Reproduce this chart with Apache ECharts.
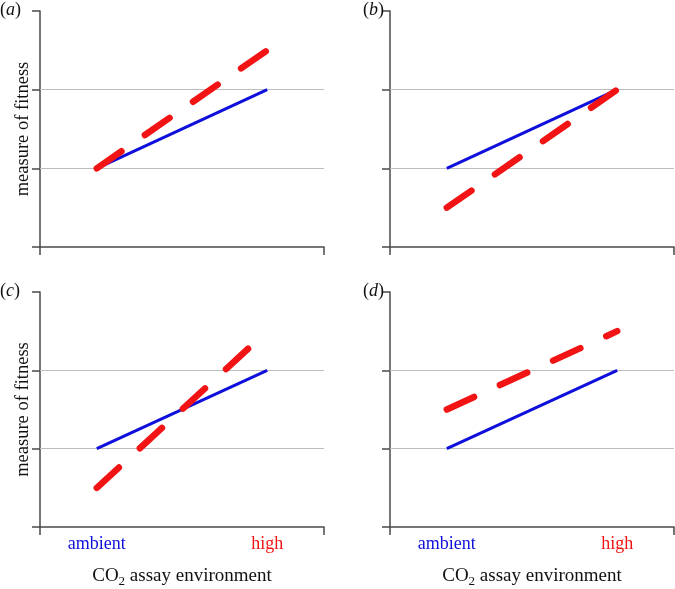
<!DOCTYPE html>
<html><head><meta charset="utf-8">
<script src="https://cdn.jsdelivr.net/npm/echarts@6/dist/echarts.min.js"></script>
<style>html,body{margin:0;padding:0;background:#fff}#c{width:675px;height:589px}</style>
</head><body><div id="c"></div>
<script>
// x positions of the two assay environments on a 0..1 axis
const envCategories = ['ambient', 'high'];
const envX = [0.2, 0.8];
const panelLetters = ['a', 'b', 'c', 'd'];
// blue solid (ambient-evolved) and red dashed (high-evolved) values
const blueA = [1, 2];   const redA = [1, 2.5];
const blueB = [1, 2];   const redB = [0.5, 2];
const blueC = [1, 2];   const redC = [0.5, 2.5];
const blueD = [1, 2];   const redD = [1.5, 2.5];
const gridValues = [1, 2];
const yTicks = [0, 1, 2, 3];

const blues = [blueA, blueB, blueC, blueD];
const reds = [redA, redB, redC, redD];
const FONT = '"Liberation Serif", "DejaVu Serif", serif';
const BLUE = '#0f0fdc';
const RED = '#f21414';
const AXIS = '#4a4a4a';

const grids = [
  {left: 40, top: 11, width: 284, height: 236},
  {left: 390, top: 11, width: 284, height: 236},
  {left: 40, top: 292, width: 284, height: 236},
  {left: 390, top: 292, width: 284, height: 236}
];

const xAxes = grids.map((g, i) => {
  const bottom = i >= 2;
  return {
    type: 'value', gridIndex: i, min: 0, max: 1,
    axisLine: {lineStyle: {color: AXIS, width: 1.5}},
    axisTick: {show: true, length: 8, customValues: [0, 1], lineStyle: {color: AXIS, width: 1.5}},
    splitLine: {show: false},
    axisLabel: {
      show: bottom, customValues: envX, margin: 8,
      formatter: v => {
        const k = envX.findIndex(x => Math.abs(x - v) < 1e-6);
        return k === 0 ? '{a|' + envCategories[0] + '}' : '{h|' + envCategories[1] + '}';
      },
      rich: {
        a: {color: BLUE, fontFamily: FONT, fontSize: 18},
        h: {color: RED, fontFamily: FONT, fontSize: 18}
      }
    },
    name: bottom ? '{t|CO}{s|2}{t| assay environment}' : '',
    nameLocation: 'middle', nameGap: 38,
    nameTextStyle: {
      rich: {
        t: {fontFamily: FONT, fontSize: 19, color: '#111'},
        s: {fontFamily: FONT, fontSize: 13, color: '#111', verticalAlign: 'bottom', padding: [10, 0, 0, 0]}
      }
    }
  };
});

const yAxes = grids.map((g, i) => ({
  type: 'value', gridIndex: i, min: yTicks[0], max: yTicks[yTicks.length - 1], interval: 1,
  axisLine: {show: true, lineStyle: {color: AXIS, width: 1.5}},
  axisTick: {show: true, length: 8, lineStyle: {color: AXIS, width: 1.5}},
  axisLabel: {show: false},
  splitLine: {show: false},
  name: (i % 2 === 0) ? 'measure of fitness' : '',
  nameLocation: 'middle', nameGap: 7, nameRotate: 90,
  nameTextStyle: {fontFamily: FONT, fontSize: 18.5, color: '#111'}
}));

const series = [];
grids.forEach((g, i) => {
  series.push({
    type: 'line', xAxisIndex: i, yAxisIndex: i, symbol: 'none', silent: true,
    data: envX.map((x, k) => [x, blues[i][k]]),
    lineStyle: {color: BLUE, width: 3},
    z: 3,
    markLine: {
      silent: true, symbol: 'none', label: {show: false},
      lineStyle: {color: '#bdbdbd', width: 1, type: 'solid'},
      data: gridValues.map(v => ({yAxis: v})),
      z: 1
    }
  });
  series.push({
    type: 'line', xAxisIndex: i, yAxisIndex: i, symbol: 'none', silent: true,
    data: envX.map((x, k) => [x, reds[i][k]]),
    lineStyle: {color: RED, width: 6.5, type: [30, 28.5], cap: 'round'},
    z: 4
  });
});

const titles = grids.map((g, i) => ({
  text: '{p|(}{l|' + panelLetters[i] + '}{p|)}',
  left: g.left - 40 + (i % 2 ? 13 : 0),
  top: g.top - 10,
  textStyle: {
    fontWeight: 'normal',
    rich: {
      p: {fontFamily: FONT, fontSize: 18, fontWeight: 'normal', color: '#111'},
      l: {fontFamily: FONT, fontSize: 18, fontStyle: 'italic', fontWeight: 'normal', color: '#111'}
    }
  },
  padding: 0
}));

const chart = echarts.init(document.getElementById('c'), null, {renderer: 'canvas'});
chart.setOption({
  animation: false,
  backgroundColor: '#fff',
  title: titles,
  grid: grids,
  xAxis: xAxes,
  yAxis: yAxes,
  series: series
});
</script></body></html>
